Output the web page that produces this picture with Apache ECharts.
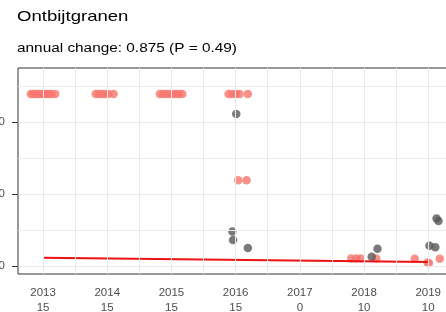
<!DOCTYPE html>
<html>
<head>
<meta charset="utf-8">
<script src="https://cdn.jsdelivr.net/npm/echarts@6/dist/echarts.min.js"></script>
<style>
  html, body { margin: 0; padding: 0; background: #fff; }
  #chart { width: 446px; height: 312px; }
</style>
</head>
<body>
<div id="chart"></div>
<script>
// data
const years = [2013, 2014, 2015, 2016, 2017, 2018, 2019]
const counts = [15, 15, 15, 15, 0, 10, 10]
const yTicks = [0, 10, 20]
const xGrid = [2013, 2013.5, 2014, 2014.5, 2015, 2015.5, 2016, 2016.5, 2017, 2017.5, 2018, 2018.5, 2019]
const yGrid = [0, 5, 10, 15, 20, 25]

const redPoints = [
  [2012.81, 23.9], [2012.85, 23.9], [2012.89, 23.9], [2012.93, 23.9], [2012.97, 23.9],
  [2013.01, 23.9], [2013.05, 23.9], [2013.09, 23.9], [2013.13, 23.9], [2013.19, 23.9],
  [2013.82, 23.9], [2013.87, 23.9], [2013.92, 23.9], [2013.97, 23.9], [2014.02, 23.9], [2014.10, 23.9],
  [2014.82, 23.9], [2014.87, 23.9], [2014.92, 23.9], [2014.97, 23.9], [2015.02, 23.9],
  [2015.07, 23.9], [2015.12, 23.9], [2015.17, 23.9],
  [2015.89, 23.9], [2015.95, 23.9], [2016.01, 23.9], [2016.06, 23.9], [2016.19, 23.9],
  [2016.04, 11.9], [2016.17, 11.9],
  [2017.80, 1.05], [2017.88, 1.05], [2017.95, 1.05], [2018.19, 1.05],
  [2018.79, 1.0], [2018.99, 0.5], [2019.01, 0.4], [2019.18, 1.0]
]
const grayPoints = [
  [2016.01, 21.1], [2015.95, 4.8], [2015.96, 3.6], [2016.19, 2.5],
  [2018.12, 1.3], [2018.21, 2.4],
  [2019.02, 2.8], [2019.11, 2.6], [2019.13, 6.6], [2019.16, 6.25]
]
const trendLine = [[2013, 1.15], [2019, 0.55]]

const chart = echarts.init(document.getElementById('chart'))
const font = 'Liberation Sans, Arial, sans-serif'

const option = {
  animation: false,
  backgroundColor: '#fff',
  // title block is a little wider than normal text in the picture
  graphic: [
    {
      type: 'text',
      x: 17,
      y: 16.7,
      scaleX: 1.28,
      style: {
        text: 'Ontbijtgranen',
        font: '14.5px ' + font,
        fill: '#000',
        align: 'left',
        verticalAlign: 'middle',
      },
    },
    {
      type: 'text',
      x: 17,
      y: 48.2,
      scaleX: 1.28,
      style: {
        text: 'annual change: 0.875 (P = 0.49)',
        font: '12px ' + font,
        fill: '#000',
        align: 'left',
        verticalAlign: 'middle',
      },
    },
  ],
  grid: {
    left: 18,
    top: 68,
    width: 442,
    height: 206,
    outerBoundsMode: 'none',
    containLabel: false,
    show: true,
    borderColor: '#333',
    borderWidth: 1,
    backgroundColor: '#fff',
  },
  xAxis: {
    type: 'value',
    min: 2012.61,
    max: 2019.495,
    splitLine: { show: false },
    axisLine: { show: false },
    axisTick: {
      show: true,
      customValues: years,
      length: 5,
      lineStyle: { color: '#333', width: 1 },
    },
    axisLabel: {
      customValues: years,
      formatter: (v) => {
        const i = years.indexOf(Math.round(v))
        return v + '\n' + (i >= 0 ? counts[i] : '')
      },
      margin: 11,
      lineHeight: 15,
      fontFamily: font,
      fontSize: 11.5,
      color: '#4d4d4d',
    },
  },
  yAxis: {
    type: 'value',
    min: -1.11,
    max: 27.5,
    splitLine: { show: false },
    axisLine: { show: false },
    axisTick: {
      show: true,
      customValues: yTicks,
      length: 6,
      lineStyle: { color: '#333', width: 1 },
    },
    axisLabel: {
      customValues: yTicks,
      margin: 13,
      fontFamily: font,
      fontSize: 11.5,
      color: '#4d4d4d',
    },
  },
  series: [
    {
      type: 'line',
      data: [],
      silent: true,
      markLine: {
        silent: true,
        symbol: 'none',
        label: { show: false },
        lineStyle: { color: '#ebebeb', type: 'solid', width: 1 },
        data: xGrid.map((v) => ({ xAxis: v })).concat(yGrid.map((v) => ({ yAxis: v }))),
      },
    },
    {
      type: 'scatter',
      data: redPoints,
      symbolSize: 8.5,
      itemStyle: { color: '#f8766d' },
      z: 3,
    },
    {
      type: 'scatter',
      data: grayPoints,
      symbolSize: 8.5,
      itemStyle: { color: '#595959' },
      z: 3,
    },
    {
      type: 'line',
      data: trendLine,
      symbol: 'none',
      lineStyle: { color: '#ee1111', width: 2 },
      z: 4,
    },
  ],
}

chart.setOption(option)
</script>
</body>
</html>
